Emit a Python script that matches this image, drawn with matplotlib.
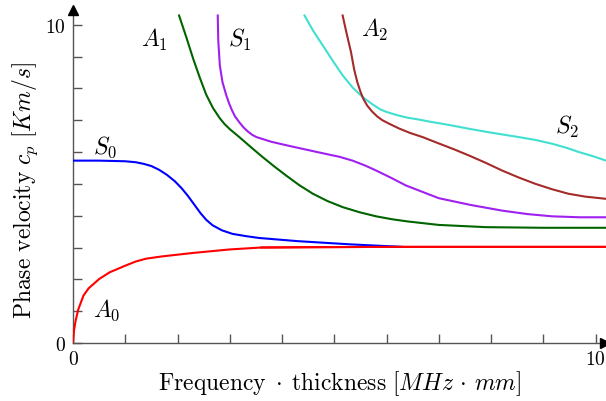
import matplotlib
matplotlib.use("Agg")
import matplotlib.pyplot as plt

plt.rcParams['mathtext.fontset'] = 'cm'
plt.rcParams['font.family'] = 'DejaVu Serif'

# dispersion curves (x: MHz*mm, y: km/s)
a0_x = [0, 0.02, 0.05, 0.1, 0.2, 0.3, 0.5, 0.7, 1.0, 1.2, 1.4, 1.7, 2.3, 3.0, 3.6, 4.5, 6, 8, 10.2]
a0_y = [0, 0.4, 0.7, 1.05, 1.49, 1.72, 2.01, 2.22, 2.43, 2.56, 2.65, 2.72, 2.83, 2.94, 3.0, 3.01, 3.02, 3.02, 3.02]

s0_x = [0, 0.5, 1.0, 1.2, 1.35, 1.5, 1.65, 1.8, 1.95, 2.08, 2.2, 2.32, 2.44, 2.55, 2.67, 2.85, 3.05, 3.3, 3.56, 4.3, 5.3, 6.3]
s0_y = [5.73, 5.73, 5.71, 5.68, 5.63, 5.56, 5.44, 5.28, 5.08, 4.86, 4.62, 4.35, 4.08, 3.87, 3.70, 3.54, 3.43, 3.36, 3.30, 3.2, 3.1, 3.02]

a1_x = [2.03, 2.17, 2.30, 2.43, 2.55, 2.68, 2.81, 2.9, 3.0, 3.19, 3.4, 3.63, 3.85, 4.08, 4.33, 4.59, 4.87, 5.16, 5.48, 5.80, 6.1, 6.4, 7.0, 7.9, 9.0, 10.2]
a1_y = [10.29, 9.6, 8.93, 8.32, 7.8, 7.38, 7.06, 6.88, 6.72, 6.46, 6.16, 5.84, 5.55, 5.26, 4.96, 4.69, 4.46, 4.27, 4.11, 3.98, 3.89, 3.82, 3.71, 3.64, 3.62, 3.62]

s1_x = [2.77, 2.78, 2.81, 2.86, 2.93, 2.98, 3.04, 3.1, 3.19, 3.26, 3.35, 3.43, 3.51, 3.8, 4.20, 4.84, 5.1, 5.35, 5.6, 5.80, 6.1, 6.37, 7.0, 7.6, 8.21, 8.7, 9.17, 9.7, 10.2]
s1_y = [10.29, 9.5, 8.72, 8.2, 7.8, 7.56, 7.32, 7.12, 6.92, 6.78, 6.64, 6.54, 6.47, 6.32, 6.17, 5.94, 5.85, 5.73, 5.57, 5.42, 5.18, 4.95, 4.55, 4.34, 4.16, 4.05, 3.98, 3.95, 3.95]

s2_x = [4.43, 4.6, 4.78, 4.97, 5.16, 5.35, 5.54, 5.73, 5.88, 6.0, 6.2, 6.4, 6.62, 6.81, 7.2, 7.58, 8.0, 8.53, 8.85, 9.17, 9.45, 9.68, 9.95, 10.2]
s2_y = [10.29, 9.8, 9.35, 8.87, 8.41, 8.03, 7.73, 7.50, 7.34, 7.26, 7.16, 7.08, 7.02, 6.96, 6.85, 6.73, 6.61, 6.47, 6.38, 6.26, 6.13, 6.0, 5.87, 5.73]

a2_x = [5.16, 5.24, 5.32, 5.38, 5.44, 5.5, 5.56, 5.63, 5.72, 5.82, 5.92, 6.05, 6.24, 6.45, 6.69, 7.0, 7.3, 7.58, 7.9, 8.21, 8.53, 8.85, 9.17, 9.48, 9.8, 10.2]
a2_y = [10.29, 9.7, 9.14, 8.6, 8.2, 7.9, 7.66, 7.46, 7.28, 7.12, 7.0, 6.89, 6.74, 6.60, 6.47, 6.27, 6.08, 5.89, 5.66, 5.42, 5.2, 5.0, 4.83, 4.69, 4.6, 4.53]

mode_labels = [r'$A_0$', r'$S_0$', r'$A_1$', r'$S_1$', r'$A_2$', r'$S_2$']
label_pos = [(0.65, 1.07), (0.61, 6.19), (1.56, 9.56), (3.19, 9.56), (5.78, 9.87), (9.45, 6.82)]

fig = plt.figure(figsize=(6.06, 4.02), dpi=100)
ax = fig.add_axes([73/606, 58/402, 533/606, 331/402])

lw = 1.5
ax.plot(a0_x, a0_y, color='#ff0000', lw=lw)
ax.plot(s0_x, s0_y, color='#0000ff', lw=lw)
ax.plot(a1_x, a1_y, color='#006400', lw=lw)
ax.plot(s1_x, s1_y, color='#a020f0', lw=lw)
ax.plot(s2_x, s2_y, color='#40e0d0', lw=lw)
ax.plot(a2_x, a2_y, color='#a52a2a', lw=lw)
# red drawn again so it lies over the blue where they meet
ax.plot(a0_x[14:], a0_y[14:], color='#ff0000', lw=lw)

for txt, (tx, ty) in zip(mode_labels, label_pos):
    ax.text(tx, ty, txt, fontsize=17, ha='center', va='center')

ax.set_xlim(0, 10.2)
ax.set_ylim(0, 10.4)

for s in ['top', 'right']:
    ax.spines[s].set_visible(False)
for s in ['left', 'bottom']:
    ax.spines[s].set_color('#555555')
    ax.spines[s].set_linewidth(1.0)
    ax.spines[s].set_zorder(0)

# arrow heads on the axes
ax.plot([0], [10.45], marker='^', color='black', ms=7, clip_on=False)
ax.plot([10.18], [0], marker='>', color='black', ms=7, clip_on=False)

ax.set_xticks(range(0, 11))
ax.set_yticks(range(0, 11))
ax.set_xticklabels(['$0$'] + [''] * 9 + ['$10$'])
ax.set_yticklabels(['$0$'] + [''] * 9 + ['$10$'])
ax.tick_params(direction='in', length=6.5, width=1, color='#555555', labelsize=14, pad=5)

ax.set_xlabel(r'$\mathrm{Frequency}\;\cdot\;\mathrm{thickness}\ [MHz\,\cdot\,mm]$', fontsize=17)
ax.set_ylabel(r'$\mathrm{Phase\ velocity}\ c_p\ [Km/s]$', fontsize=17)
ax.xaxis.set_label_coords(0.5, -0.075)
ax.xaxis.label.set_va('top')
ax.yaxis.set_label_coords(-0.062, 0.465)

fig.savefig('out.png', dpi=100)
